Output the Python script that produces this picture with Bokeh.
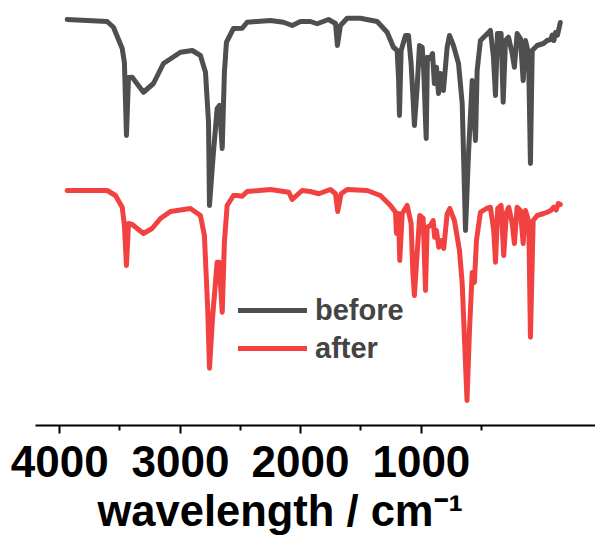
from bokeh.plotting import figure
from bokeh.models import Range1d, FixedTicker, Legend, LegendItem, Title
from bokeh.embed import file_html
from bokeh.resources import INLINE

# IR spectra (wavenumber in cm^-1, transmittance in %)
before_wn = [4000, 3708, 3662, 3598, 3582, 3567, 3552, 3525, 3443, 3370, 3297, 3173, 3087, 3027, 2990,
             2968, 2961, 2934, 2905, 2888, 2868, 2852, 2837, 2786, 2722, 2686, 2516, 2421, 2357, 2297,
             2224, 2175, 2092, 2041, 2027, 2005, 1956, 1859, 1737, 1664, 1618, 1591, 1581, 1574, 1562,
             1530, 1508, 1489, 1474, 1465, 1445, 1428, 1408, 1397, 1379, 1370, 1348, 1333, 1319, 1304,
             1289, 1275, 1253, 1226, 1209, 1180, 1143, 1116, 1092, 1070, 1043, 1034, 1019, 1007, 983,
             946, 910, 888, 873, 859, 832, 817, 800, 778, 751, 735, 715, 691, 671, 654, 632, 618, 605,
             569, 523, 496, 470, 459, 447, 435, 420, 400]
before_t = [99.2, 98.4, 96.1, 87.6, 82.0, 52.8, 76.0, 76.1, 70.1, 73.6, 81.6, 86.1, 86.8, 84.8, 78.1,
            58.1, 24.8, 44.8, 63.6, 64.8, 47.6, 78.1, 90.1, 95.6, 95.7, 98.1, 98.8, 98.1, 96.8, 98.4,
            98.4, 97.5, 99.2, 97.6, 88.8, 96.8, 99.7, 99.7, 98.4, 94.1, 88.1, 86.8, 76.1, 60.8, 86.8,
            92.8, 92.8, 81.6, 66.8, 56.8, 72.1, 88.8, 88.1, 78.8, 51.6, 84.1, 83.6, 85.6, 73.6, 80.1,
            69.6, 77.6, 70.8, 88.1, 92.8, 88.8, 81.6, 65.6, 14.8, 45.6, 74.8, 65.6, 50.8, 78.8, 90.8,
            92.8, 94.8, 84.1, 68.8, 93.6, 93.6, 66.1, 90.8, 92.1, 85.6, 80.1, 93.6, 91.6, 74.8, 90.8,
            85.6, 41.6, 86.8, 88.8, 89.6, 90.8, 91.2, 93.0, 90.8, 94.0, 93.0, 98.0]

after_wn = [4000, 3708, 3647, 3598, 3582, 3567, 3552, 3525, 3443, 3380, 3319, 3246, 3100, 3027, 2998,
            2974, 2961, 2939, 2905, 2890, 2868, 2852, 2832, 2786, 2759, 2722, 2686, 2516, 2382, 2357,
            2285, 2224, 2163, 2078, 2041, 2025, 2000, 1956, 1810, 1713, 1640, 1603, 1596, 1581, 1572,
            1554, 1518, 1489, 1477, 1465, 1450, 1426, 1401, 1384, 1372, 1348, 1328, 1317, 1304, 1287,
            1270, 1251, 1226, 1207, 1173, 1136, 1116, 1081, 1063, 1043, 1027, 1012, 983, 939, 910,
            886, 873, 857, 832, 813, 793, 776, 751, 735, 715, 691, 671, 654, 630, 618, 598, 569, 521,
            496, 470, 448, 430, 415, 400]
after_t = [98.8, 98.8, 96.8, 92.1, 84.8, 68.8, 85.6, 85.2, 81.6, 83.6, 87.6, 90.4, 91.6, 88.8, 80.8,
           51.6, 27.7, 47.6, 70.1, 70.1, 50.1, 78.1, 92.8, 96.8, 96.8, 96.5, 98.4, 99.2, 98.1, 95.2,
           98.8, 98.4, 97.5, 99.2, 97.5, 90.4, 97.5, 99.2, 98.8, 96.8, 92.8, 90.1, 81.6, 89.6, 70.8,
           89.6, 92.8, 85.6, 66.8, 56.8, 69.6, 88.8, 87.6, 58.8, 84.1, 84.8, 86.8, 80.1, 82.8, 76.1,
           78.8, 75.6, 89.5, 91.6, 86.8, 74.8, 61.6, 14.8, 42.8, 66.0, 62.0, 78.8, 90.1, 91.6, 92.1,
           82.8, 70.1, 91.6, 92.8, 72.8, 90.1, 92.1, 85.6, 77.6, 92.1, 90.8, 77.6, 90.8, 86.1, 40.1,
           86.8, 88.8, 89.6, 90.1, 90.8, 92.1, 91.0, 93.6, 93.2]

series_names = ["before", "after"]
stack_offset = 68  # vertical offset of the "before" trace

# tick positions as drawn on the reference axis, and their labels
major_ticks = [4054, 3173, 2297, 1414]
minor_ticks = [3618, 2735, 1859, 976]
tick_labels = ["4000", "3000", "2000", "1000"]
x_title = "wavelength / cm\u207b\u00b9"

p = figure(width=595, height=548, output_backend="svg", toolbar_location=None,
           x_range=Range1d(4231, 143), y_range=Range1d(4.8, 174.8),
           y_axis_location=None,
           min_border_left=35, min_border_right=0, min_border_top=0, min_border_bottom=123)
p.outline_line_color = None
p.grid.visible = False
p.background_fill_color = "white"
p.border_fill_color = "white"

r_before = p.line(before_wn, [t + stack_offset for t in before_t], line_color="#4f4f4f",
                  line_width=5, line_join="round", line_cap="round")
r_after = p.line(after_wn, after_t, line_color="#F24141",
                 line_width=5, line_join="round", line_cap="round")

ax = p.xaxis[0]
ax.ticker = FixedTicker(ticks=major_ticks, minor_ticks=minor_ticks)
ax.major_label_overrides = {t: l for t, l in zip(major_ticks, tick_labels)}
ax.axis_line_width = 2
ax.axis_line_color = "black"
ax.major_tick_line_width = 2
ax.minor_tick_line_width = 2
ax.major_tick_in = 0
ax.major_tick_out = 8
ax.minor_tick_in = 0
ax.minor_tick_out = 5
ax.major_label_text_font = "Liberation Sans"
ax.major_label_text_font_style = "bold"
ax.major_label_text_font_size = "44px"
ax.major_label_text_color = "black"
ax.major_label_standoff = 12

title = Title(text=x_title, align="left", offset=62, standoff=11,
              text_font="Liberation Sans", text_font_style="bold",
              text_font_size="43.5px", text_color="black")
p.add_layout(title, "below")

legend = Legend(items=[LegendItem(label=series_names[0], renderers=[r_before]),
                       LegendItem(label=series_names[1], renderers=[r_after])],
                location=(203, 60))
legend.label_text_font = "Liberation Sans"
legend.label_text_font_style = "bold"
legend.label_text_font_size = "29px"
legend.glyph_width = 69
legend.glyph_height = 34
legend.label_height = 34
legend.spacing = 4
legend.padding = 0
legend.margin = 0
legend.label_standoff = 8
legend.border_line_alpha = 0
legend.background_fill_alpha = 0
p.add_layout(legend)

open("out.html", "w").write(file_html(p, INLINE))
